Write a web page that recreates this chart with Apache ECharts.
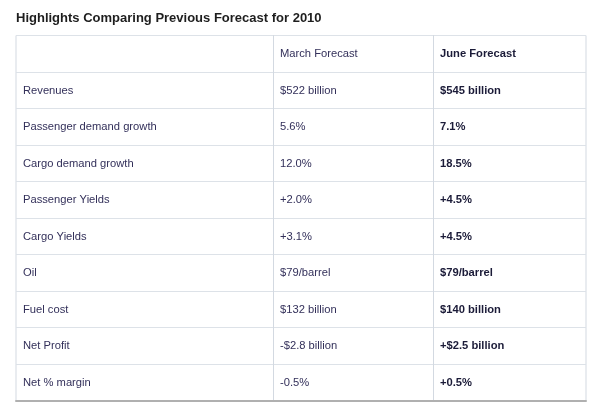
<!DOCTYPE html>
<html><head><meta charset="utf-8">
<script src="https://cdn.jsdelivr.net/npm/echarts@6/dist/echarts.min.js"></script>
<style>html,body{margin:0;padding:0;background:#fff}#c{width:600px;height:418px}</style>
</head><body><div id="c"></div>
<script>
const chartTitle = 'Highlights Comparing Previous Forecast for 2010';
const headers = ['', 'March Forecast', 'June Forecast'];
const metrics = ['Revenues','Passenger demand growth','Cargo demand growth','Passenger Yields','Cargo Yields','Oil','Fuel cost','Net Profit','Net % margin'];
const marchForecast = ['$522 billion','5.6%','12.0%','+2.0%','+3.1%','$79/barrel','$132 billion','-$2.8 billion','-0.5%'];
const juneForecast = ['$545 billion','7.1%','18.5%','+4.5%','+4.5%','$79/barrel','$140 billion','+$2.5 billion','+0.5%'];

const rowKeys = ['header'].concat(metrics);
const columns = [
  [headers[0]].concat(metrics),
  [headers[1]].concat(marchForecast),
  [headers[2]].concat(juneForecast)
];
const colBold = [false, false, true];
const FONT = "Arial, 'Liberation Sans', sans-serif";
const BORDER = '#d3d9e1';
// grid 0 spans the whole table (outer border + row rules); grids 1,2 are the value columns
const gridLayout = [
  {left: 16, width: 570},
  {left: 273, width: 160},
  {left: 433, width: 153}
];

const grids = [], xAxes = [], yAxes = [], series = [];
columns.forEach((col, ci) => {
  const full = ci === 0;
  grids.push({
    left: gridLayout[ci].left, width: gridLayout[ci].width, top: 35.5, height: 365,
    show: full, borderColor: BORDER, borderWidth: 1, backgroundColor: '#fff'
  });
  xAxes.push({
    gridIndex: ci, type: 'value', min: 0, max: 1, position: 'bottom',
    axisLine: {show: full, lineStyle: {color: '#b0b0b0', width: 2}},
    axisTick: {show: false}, axisLabel: {show: false}, splitLine: {show: false}
  });
  yAxes.push({
    gridIndex: ci, type: 'category', data: rowKeys, inverse: true, boundaryGap: true,
    axisLine: {show: !full, lineStyle: {color: BORDER, width: 1}},
    axisTick: {show: false}, axisLabel: {show: false},
    splitLine: {show: full, lineStyle: {color: '#dde2e8', width: 1}}
  });
  series.push({
    type: 'custom', xAxisIndex: ci, yAxisIndex: ci,
    data: col.map((t, i) => [0, i]),
    encode: {x: 0, y: 1},
    silent: true,
    renderItem: function (params, api) {
      const p = api.coord([0, api.value(1)]);
      const text = columns[ci][params.dataIndex];
      return {
        type: 'text', x: p[0] + 7, y: p[1] + 0.5,
        style: {
          text: text, fill: colBold[ci] ? '#1b1b38' : '#33305a',
          font: (colBold[ci] ? 'bold ' : '') + '11.2px ' + FONT,
          align: 'left', verticalAlign: 'middle'
        }
      };
    }
  });
});

const chart = echarts.init(document.getElementById('c'), null, {renderer: 'canvas'});
chart.setOption({
  animation: false,
  backgroundColor: '#fff',
  title: {
    text: chartTitle, left: 16, top: 12, padding: 0,
    textStyle: {fontSize: 13, fontWeight: 'bold', color: '#1e1e1e', fontFamily: FONT}
  },
  grid: grids, xAxis: xAxes, yAxis: yAxes, series: series
});
</script></body></html>
